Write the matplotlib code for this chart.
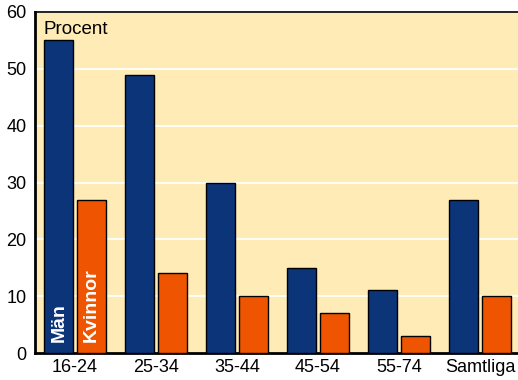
import matplotlib.pyplot as plt
import numpy as np

plt.rcParams["font.family"] = ["Liberation Sans", "DejaVu Sans"]

grupper = ["16-24", "25-34", "35-44", "45-54", "55-74", "Samtliga"]
man = [55, 49, 30, 15, 11, 27]
kvinnor = [27, 14, 10, 7, 3, 10]

fig = plt.figure(figsize=(5.18, 3.80), dpi=100)
ax = fig.add_axes([35/518, 27/380, 483/518, 341/380])
ax.set_facecolor("#FEEBB5")

x = np.arange(len(grupper))
ax.bar(x - 0.2, man, width=0.36, color="#0B3479", edgecolor="black", linewidth=1, zorder=3)
ax.bar(x + 0.2, kvinnor, width=0.36, color="#EF5400", edgecolor="black", linewidth=1, zorder=3)

ax.set_xlim(-0.494, 5.47)
ax.set_ylim(0, 60)
ax.set_yticks(range(0, 61, 10))
ax.set_xticks(x)
ax.set_xticklabels(grupper)
ax.tick_params(length=0, labelsize=13, pad=4)
ax.tick_params(axis="y", pad=6)
ax.yaxis.grid(True, color="white", linewidth=1.3, zorder=1)
ax.set_axisbelow(True)

for s in ["left", "bottom"]:
    ax.spines[s].set_linewidth(2)
ax.spines["top"].set_linewidth(1.2)
ax.spines["right"].set_visible(False)

ax.text(-0.395, 56.1, "Procent", ha="left", va="baseline", fontsize=13.5)
ax.text(-0.2, 2.0, "Män", rotation=90, ha="center", va="bottom", color="white",
        fontsize=14, fontweight="bold", zorder=4)
ax.text(0.2, 2.0, "Kvinnor", rotation=90, ha="center", va="bottom", color="white",
        fontsize=14, fontweight="bold", zorder=4)

fig.savefig("out.png", dpi=100)
